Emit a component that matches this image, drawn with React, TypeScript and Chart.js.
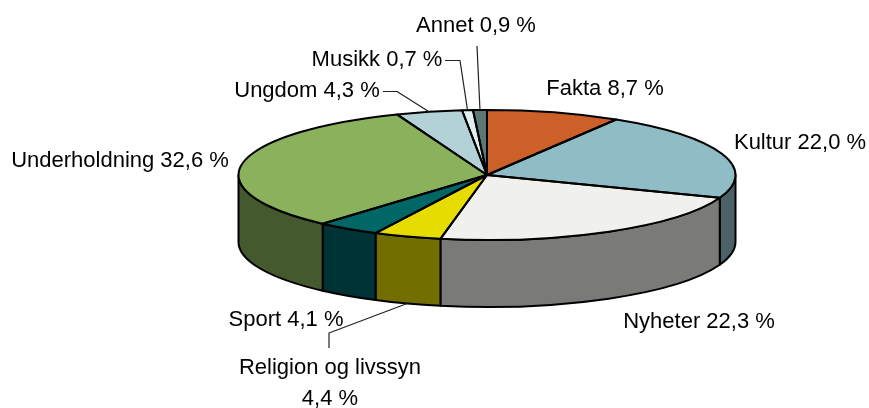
import React, { useEffect, useRef } from "react";
import { Chart, registerables } from "chart.js";

Chart.register(...registerables);

const categories = ["Fakta", "Kultur", "Nyheter", "Religion og livssyn", "Sport", "Underholdning", "Ungdom", "Musikk", "Annet"];
const shares = [8.7, 22.0, 22.3, 4.4, 4.1, 32.6, 4.3, 0.7, 0.9];
const topColors = ["#CC6028", "#90BCC6", "#F0F0EC", "#E6DC00", "#006666", "#8AB25C", "#B2D2D8", "#E0EEF0", "#5E7676"];
const wallColors = ["#663014", "#4A6268", "#7A7A78", "#736E00", "#003336", "#45592E", "#596969", "#707778", "#2F3B3B"];

// label text layout: centre x, centre y per line
const labelLayout = [
  { lines: ["Fakta 8,7 %"], x: 605, y: 89 },
  { lines: ["Kultur 22,0 %"], x: 800, y: 143 },
  { lines: ["Nyheter 22,3 %"], x: 699, y: 322 },
  { lines: ["Religion og livssyn", "4,4 %"], x: 330, y: 368, lh: 31 },
  { lines: ["Sport 4,1 %"], x: 286, y: 320 },
  { lines: ["Underholdning 32,6 %"], x: 120, y: 161 },
  { lines: ["Ungdom 4,3 %"], x: 307, y: 91 },
  { lines: ["Musikk 0,7 %"], x: 377, y: 60 },
  { lines: ["Annet 0,9 %"], x: 476, y: 26 },
];

// leader line start points; the last point is derived from the slice
const leaders: { index: number; pts: number[][]; front?: boolean }[] = [
  { index: 6, pts: [[383, 91.5], [397, 91.5]] },
  { index: 7, pts: [[445, 60.5], [460, 60.5]] },
  { index: 8, pts: [[477, 46]] },
  { index: 3, pts: [[329, 348], [329, 333]], front: true },
];

const RX = 248.5;
const RY = 65;
const DEPTH = 67;

const pie3d = {
  id: "pie3d",
  beforeDatasetsDraw(chart: any) {
    const ctx = chart.ctx;
    const arcs = chart.getDatasetMeta(0).data;
    ctx.save();
    ctx.lineWidth = 2;
    ctx.strokeStyle = "#000";
    ctx.lineJoin = "round";
    const half = Math.PI;
    const two = Math.PI * 2;
    arcs.forEach((el: any, i: number) => {
      // canvas angles: the front half runs from 0 to PI
      const a = el.startAngle;
      const b = el.endAngle;
      const ranges: number[][] = [[a, b], [a + two, b + two], [a - two, b - two]];
      ranges.forEach(([s, e]) => {
        const from = Math.max(s, 0);
        const to = Math.min(e, half);
        if (to <= from) return;
        ctx.beginPath();
        ctx.ellipse(el.x, el.y, RX, RY, 0, from, to, false);
        ctx.ellipse(el.x, el.y + DEPTH, RX, RY, 0, to, from, true);
        ctx.closePath();
        ctx.fillStyle = wallColors[i];
        ctx.fill();
        ctx.stroke();
      });
    });
    ctx.restore();
    const el0 = arcs[0];
    ctx.save();
    ctx.translate(el0.x, el0.y);
    ctx.scale(RX / el0.outerRadius, RY / el0.outerRadius);
    ctx.translate(-el0.x, -el0.y);
  },
  afterDatasetsDraw(chart: any) {
    const ctx = chart.ctx;
    ctx.restore();
    const arcs = chart.getDatasetMeta(0).data;
    ctx.save();
    ctx.lineWidth = 2;
    ctx.strokeStyle = "#000";
    ctx.lineJoin = "round";
    arcs.forEach((el: any) => {
      ctx.beginPath();
      ctx.moveTo(el.x, el.y);
      ctx.ellipse(el.x, el.y, RX, RY, 0, el.startAngle, el.endAngle, false);
      ctx.closePath();
      ctx.stroke();
    });
    ctx.lineWidth = 1.2;
    ctx.strokeStyle = "#222";
    leaders.forEach((l) => {
      const el = arcs[l.index];
      const mid = (el.startAngle + el.endAngle) / 2;
      const ex = el.x + RX * Math.cos(mid);
      const ey = el.y + RY * Math.sin(mid) + (l.front ? DEPTH : 0);
      ctx.beginPath();
      l.pts.forEach(([x, y], k) => (k === 0 ? ctx.moveTo(x, y) : ctx.lineTo(x, y)));
      ctx.lineTo(ex, ey);
      ctx.stroke();
    });
    ctx.fillStyle = "#000";
    ctx.font = '22px "Liberation Sans", Arial, sans-serif';
    ctx.textAlign = "center";
    ctx.textBaseline = "middle";
    labelLayout.forEach((t) => {
      t.lines.forEach((line, k) => ctx.fillText(line, t.x, t.y + k * (t.lh || 0)));
    });
    ctx.restore();
  },
};

export default function App() {
  const ref = useRef<HTMLCanvasElement>(null);
  useEffect(() => {
    document.body.style.margin = "0";
    const chart = new Chart(ref.current!, {
      type: "pie",
      data: {
        labels: categories,
        datasets: [
          {
            data: shares,
            backgroundColor: topColors,
            borderWidth: 0,
            clip: false,
          } as any,
        ],
      },
      options: {
        animation: false,
        responsive: false,
        layout: { padding: { left: 105, right: 0, top: 0, bottom: 58 } },
        plugins: { legend: { display: false }, tooltip: { enabled: false } },
      },
      plugins: [pie3d],
    });
    return () => chart.destroy();
  }, []);
  return <canvas ref={ref} width={869} height={408} style={{ display: "block" }} />;
}
